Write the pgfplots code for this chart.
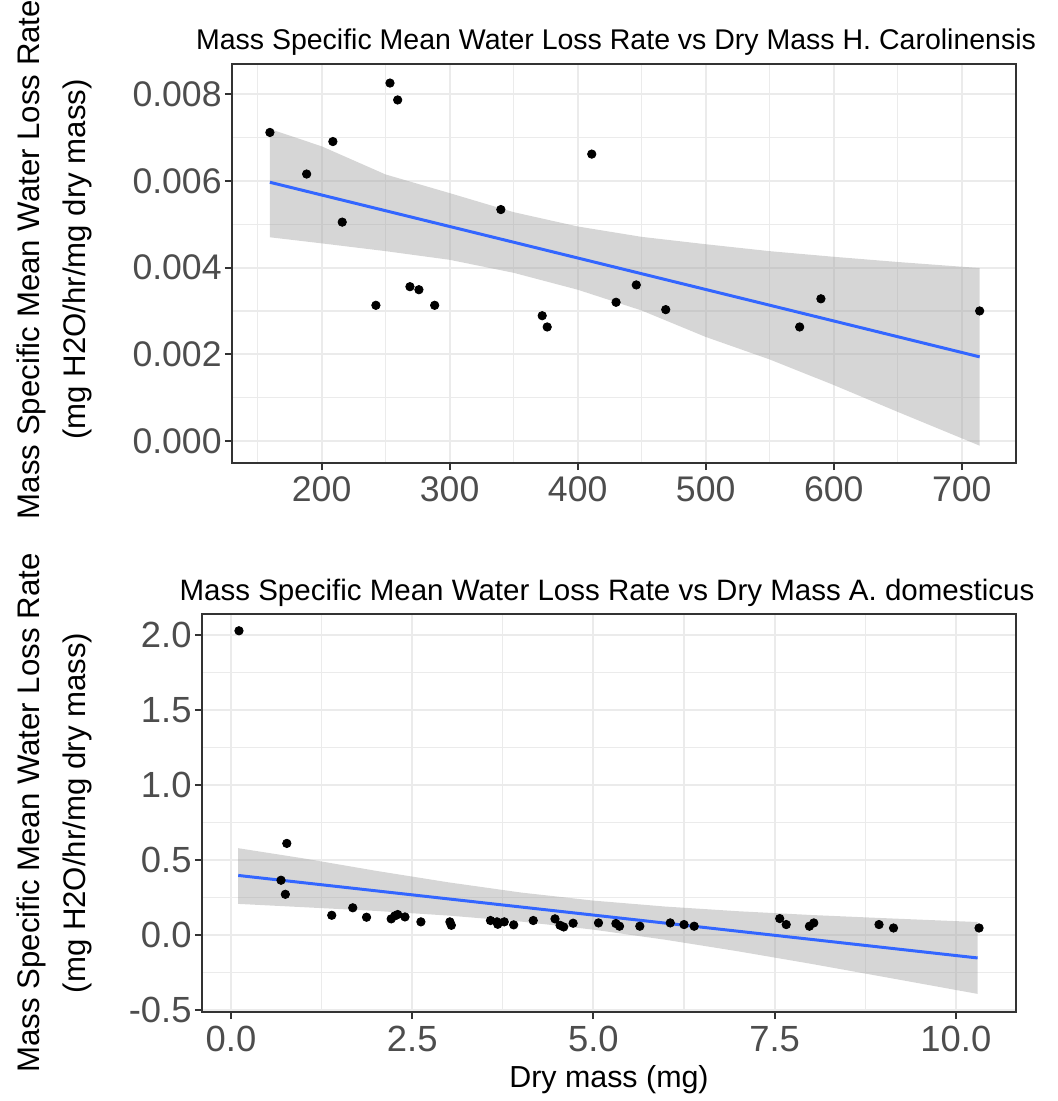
\documentclass[border=0pt]{standalone}
\usepackage{fontspec}
\setmainfont{Liberation Sans}
\usepackage{pgfplots}
\pgfplotsset{compat=1.18}
\definecolor{gridcol}{HTML}{EBEBEB}
\definecolor{bordercol}{HTML}{333333}
\definecolor{ticklab}{HTML}{4D4D4D}
\definecolor{bandcol}{HTML}{999999}
\definecolor{fitcol}{HTML}{3366FF}

\pgfplotstableread{
x y
159.6 0.00712
188.3 0.00616
208.8 0.00691
216.1 0.00505
242.4 0.00313
253.4 0.00826
259.4 0.00787
269.0 0.00356
276.0 0.00349
288.3 0.00313
340.0 0.00534
372.3 0.00289
376.2 0.00263
411.0 0.00662
430.0 0.00320
445.8 0.00360
468.8 0.00303
573.4 0.00263
590.0 0.00328
714.0 0.00300
}\toppts

\pgfplotstableread{
x fit
159.6 0.00597
714 0.00194
}\topfit

\pgfplotstableread{
x y
159.6 0.00720
200 0.00680
250 0.00615
300 0.00572
350 0.00528
400 0.00495
450 0.00471
500 0.00454
550 0.00438
600 0.00425
650 0.00413
714 0.00399
714 -0.00011
650 0.00067
600 0.00129
550 0.00188
500 0.00240
450 0.00301
400 0.00349
350 0.00388
300 0.00418
250 0.00438
200 0.00456
159.6 0.00470
}\topband

\pgfplotstableread{
x y
0.11 2.03
0.69 0.364
0.75 0.27
0.77 0.61
1.39 0.13
1.68 0.18
1.87 0.117
2.21 0.106
2.26 0.126
2.30 0.135
2.40 0.119
2.62 0.086
3.02 0.086
3.04 0.063
3.58 0.095
3.67 0.086
3.68 0.070
3.77 0.086
3.90 0.066
4.17 0.095
4.47 0.106
4.54 0.063
4.59 0.052
4.72 0.077
5.07 0.079
5.31 0.075
5.36 0.057
5.64 0.057
6.06 0.079
6.25 0.068
6.39 0.057
7.57 0.108
7.66 0.068
7.98 0.057
8.04 0.079
8.94 0.068
9.14 0.045
10.32 0.045
}\botpts

\pgfplotstableread{
x fit
0.1 0.396
10.3 -0.155
}\botfit

\pgfplotstableread{
x y
0.1 0.578
1.0 0.510
2.0 0.427
3.0 0.350
4.0 0.282
5.0 0.228
6.0 0.188
7.0 0.157
8.0 0.132
9.0 0.111
10.3 0.085
10.3 -0.395
9.0 -0.281
8.0 -0.194
7.0 -0.111
6.0 -0.034
5.0 0.034
4.0 0.088
3.0 0.128
2.0 0.159
1.0 0.184
0.1 0.206
}\botband

\newcommand{\ylab}{\fontsize{15.6}{23}\selectfont\begin{tabular}{@{}c@{}}Mass Specific Mean Water Loss Rate\\(mg H2O/hr/mg dry mass)\end{tabular}}

\pgfplotsset{
  ggstyle/.style={
    scale only axis,
    anchor=south west,
    axis line style={draw=bordercol, line width=1pt},
    grid=both,
    major grid style={draw=gridcol, line width=1pt},
    minor grid style={draw=gridcol, line width=0.6pt},
    tick align=outside,
    tick pos=left,
    major tick length=3.5pt,
    minor tick length=0pt,
    tick style={draw=bordercol, line width=1pt},
    ticklabel style={text=ticklab},
    yticklabel style={inner xsep=1.5pt},
    /pgf/number format/assume math mode=true,
    title style={at={(0.5,1)}, anchor=base, yshift=1pt},
    ylabel style={at={(rel axis cs:0,0.5)}, anchor=center},
  }
}

\begin{document}
\begin{tikzpicture}
\useasboundingbox (0,0) rectangle (529pt,-550.5pt);
\begin{axis}[ggstyle,
  at={(116pt,-231.5pt)},
  width=392pt, height=199.5pt,
  xmin=130, xmax=742.4, ymin=-0.00051, ymax=0.0087,
  xtick={200,300,400,500,600,700},
  minor xtick={150,250,350,450,550,650},
  ytick={0,0.002,0.004,0.006,0.008},
  minor ytick={0.001,0.003,0.005,0.007},
  scaled y ticks=false,
  ticklabel style={font=\fontsize{17.8}{20}\selectfont},
  yticklabel style={/pgf/number format/.cd, fixed, fixed zerofill, precision=3},
  title={Mass Specific Mean Water Loss Rate vs Dry Mass H. Carolinensis},
  title style={font=\fontsize{14.25}{16}\selectfont, xshift=-4pt},
  ylabel={\ylab},
  ylabel style={yshift=89.25pt, xshift=2pt},
]
\addplot[only marks, mark=*, mark size=2.1pt, black] table[x=x,y=y] {\toppts};
\addplot[fill=bandcol, fill opacity=0.4, draw=none] table[x=x,y=y] {\topband} -- cycle;
\addplot[fitcol, line width=1.5pt] table[x=x,y=fit] {\topfit};
\end{axis}

\begin{axis}[ggstyle,
  at={(101pt,-506pt)},
  width=407pt, height=199pt,
  xmin=-0.40, xmax=10.83, ymin=-0.516, ymax=2.142,
  xtick={0,2.5,5,7.5,10},
  minor xtick={1.25,3.75,6.25,8.75},
  ytick={-0.5,0,0.5,1,1.5,2},
  minor ytick={-0.25,0.25,0.75,1.25,1.75},
  ticklabel style={font=\fontsize{18.2}{20}\selectfont},
  xticklabel style={/pgf/number format/.cd, fixed, fixed zerofill, precision=1},
  yticklabel style={/pgf/number format/.cd, fixed, fixed zerofill, precision=1},
  title={Mass Specific Mean Water Loss Rate vs Dry Mass A. domesticus},
  title style={font=\fontsize{14.75}{17}\selectfont, xshift=-1pt},
  xlabel={Dry mass (mg)},
  xlabel style={font=\fontsize{15.2}{18}\selectfont},
  ylabel={\ylab},
  ylabel style={yshift=74.25pt},
]
\addplot[only marks, mark=*, mark size=2.1pt, black] table[x=x,y=y] {\botpts};
\addplot[fill=bandcol, fill opacity=0.4, draw=none] table[x=x,y=y] {\botband} -- cycle;
\addplot[fitcol, line width=1.5pt] table[x=x,y=fit] {\botfit};
\end{axis}
\end{tikzpicture}
\end{document}
